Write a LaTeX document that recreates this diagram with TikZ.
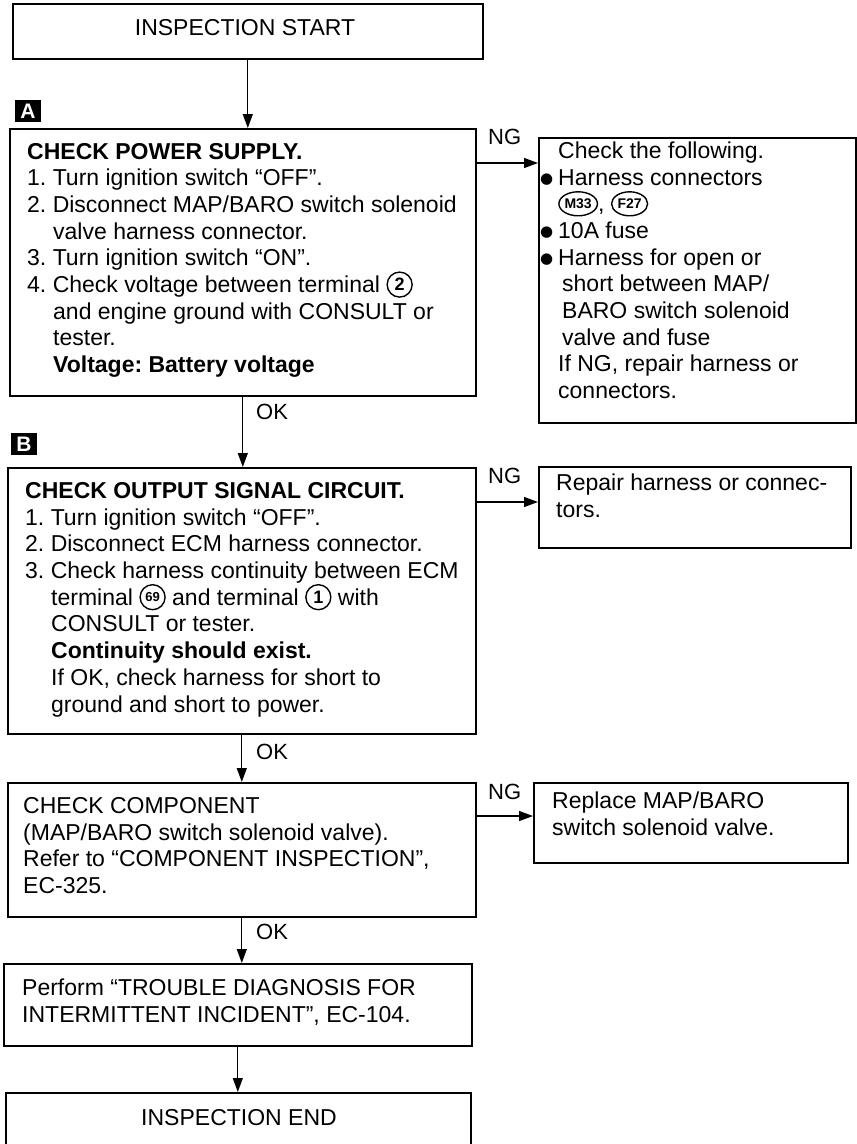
\documentclass[tikz,border=0pt]{standalone}
\usepackage{fontspec}
\setmainfont{Liberation Sans}
\newfontfamily\dejavu{DejaVu Sans}
\usetikzlibrary{arrows.meta,shapes.geometric,calc}

\newcommand{\cnum}[2][18]{\tikz[baseline={([yshift=-8pt]cn.center)}]\node[draw,circle,line width=1.4pt,inner sep=0pt,minimum width=25pt,minimum height=25pt,font=\bfseries\fontsize{#1}{#1}\selectfont] (cn) {#2};}
\newcommand{\ovalnum}[1]{\tikz[baseline={([yshift=-8pt]ce.center)}]\node[draw,ellipse,line width=1.4pt,inner xsep=0pt,inner ysep=0pt,minimum width=36pt,minimum height=24pt,font=\bfseries\fontsize{14}{14}\selectfont] (ce) {#1};}
\newcommand{\bulletmark}{\llap{\raisebox{1.5pt}{\dejavu\fontsize{15}{15}\selectfont ●}\hspace{5pt}}}

\begin{document}
\frenchspacing
\begin{tikzpicture}[x=1pt,y=-1pt,
  box/.style={draw,line width=1.6pt,rectangle,inner sep=0pt,anchor=north west},
  txt/.style={anchor=north west,inner sep=0pt,align=left,font=\frenchspacing\fontsize{23}{26.7}\selectfont},
  ctxt/.style={inner sep=0pt,font=\fontsize{23}{26.7}\selectfont},
  lbl/.style={inner sep=0pt,anchor=west,font=\fontsize{22}{22}\selectfont},
  arr/.style={line width=1.2pt,-{Triangle[length=14pt,width=10pt]}},
  markbox/.style={fill=black,text=white,inner sep=0pt,minimum width=26pt,minimum height=22pt,font=\bfseries\fontsize{21}{21}\selectfont}]

\useasboundingbox (0,0) rectangle (857,1144);
\clip (0,0) rectangle (857,1144);

% boxes
\node[box,minimum width=470pt,minimum height=55pt] (start) at (12,3) {};
\node[box,minimum width=466pt,minimum height=267pt] (A) at (9,128) {};
\node[box,minimum width=317pt,minimum height=285pt] (R1) at (538,137) {};
\node[box,minimum width=468pt,minimum height=266pt] (B) at (7,467) {};
\node[box,minimum width=312pt,minimum height=81pt] (R2) at (538,466) {};
\node[box,minimum width=468pt,minimum height=134pt] (C) at (7,782) {};
\node[box,minimum width=314pt,minimum height=80pt] (R3) at (533,782) {};
\node[box,minimum width=468pt,minimum height=82pt] (D) at (3,963) {};
\node[box,minimum width=465pt,minimum height=90pt] (E) at (5,1092) {};

% markers
\node[markbox] (mA) at (28,111) {A};
\node[markbox] (mB) at (24,444) {B};

% texts
\node[ctxt] (tS) at (245,28) {INSPECTION START};
\node[txt] (tA) at (27,140.2) {\strut\textbf{CHECK POWER SUPPLY.}\\
1. Turn ignition switch “OFF”.\\
2. Disconnect MAP/BARO switch solenoid\\
\hspace*{26pt}valve harness connector.\\
3. Turn ignition switch “ON”.\\
4. Check voltage between terminal \cnum{2}\\
\hspace*{26pt}and engine ground with CONSULT or\\
\hspace*{26pt}tester.\\
\hspace*{26pt}\textbf{Voltage: Battery voltage}};

\node[txt] (tR1) at (558,139.5) {\strut Check the following.\\
\bulletmark Harness connectors\\
\ovalnum{M33}, \ovalnum{F27}\\
\bulletmark 10A fuse\\
\bulletmark Harness for open or\\
\hspace*{4pt}short between MAP/\\
\hspace*{4pt}BARO switch solenoid\\
\hspace*{4pt}valve and fuse\\
If NG, repair harness or\\
connectors.};

\node[txt] (tB) at (25,479.5) {\strut\textbf{CHECK OUTPUT SIGNAL CIRCUIT.}\\
1. Turn ignition switch “OFF”.\\
2. Disconnect ECM harness connector.\\
3. Check harness continuity between ECM\\
\hspace*{26pt}terminal \cnum[13]{69} and terminal \cnum{1} with\\
\hspace*{26pt}CONSULT or tester.\\
\hspace*{26pt}\textbf{Continuity should exist.}\\
\hspace*{26pt}If OK, check harness for short to\\
\hspace*{26pt}ground and short to power.};

\node[txt] (tR2) at (556,471.5) {\strut Repair harness or connec-\\tors.};
\node[txt] (tC) at (23,794.5) {\strut CHECK COMPONENT\\(MAP/BARO switch solenoid valve).\\Refer to “COMPONENT INSPECTION”,\\EC-325.};
\node[txt] (tR3) at (552,789.5) {\strut Replace MAP/BARO\\switch solenoid valve.};
\node[txt] (tD) at (22,976.5) {\strut Perform “TROUBLE DIAGNOSIS FOR\\INTERMITTENT INCIDENT”, EC-104.};
\node[ctxt] (tE) at (239,1118) {INSPECTION END};

% labels
\node[lbl] (ng1) at (488,137) {NG};
\node[lbl] (ng2) at (488,476) {NG};
\node[lbl] (ng3) at (488,792) {NG};
\node[lbl] (ok1) at (256,412) {OK};
\node[lbl] (ok2) at (256,752) {OK};
\node[lbl] (ok3) at (256,932) {OK};

% connectors
\draw[arr] (start.south) -- (start.south |- A.north);
\draw[arr] (A.south) -- (A.south |- B.north);
\draw[arr] (B.south) -- (B.south |- C.north);
\draw[arr] (C.south) -- (C.south |- D.north);
\draw[arr] (D.south) -- (D.south |- E.north);

\coordinate (a1) at ([yshift=-35pt]A.north east);
\coordinate (b1) at ([yshift=-35pt]B.north east);
\coordinate (c1) at ([yshift=-34pt]C.north east);
\draw[arr] (a1) -- (a1 -| R1.west);
\draw[arr] (b1) -- (b1 -| R2.west);
\draw[arr] (c1) -- (c1 -| R3.west);
\end{tikzpicture}
\end{document}
